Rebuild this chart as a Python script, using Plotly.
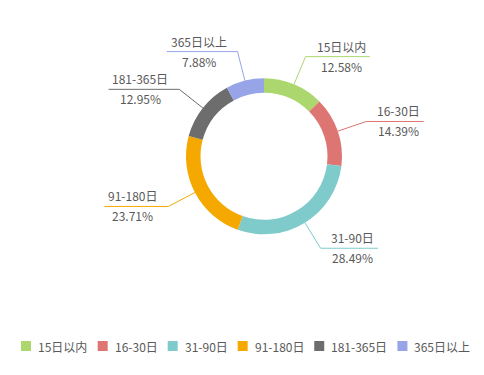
import math
import plotly.graph_objects as go

# ---- data ----
categories = ["15日以内", "16-30日", "31-90日", "91-180日", "181-365日", "365日以上"]
percents = [12.58, 14.39, 28.49, 23.71, 12.95, 7.88]
pct_labels = ["12.58%", "14.39%", "28.49%", "23.71%", "12.95%", "7.88%"]
colors = ["#ACD76E", "#DD7573", "#7FCBCB", "#F5A800", "#6D6D6D", "#97A5E8"]

# ---- layout constants (page pixels) ----
OFF = 8                      # default body margin of the html page
W, H = 484 - OFF, 375 - OFF  # figure size so that it fills the window
CX, CY = 264, 156.3
R_OUT = 78
R_IN = 63.5
R_KNEE = 108
FONT = "Noto Sans CJK SC, Microsoft YaHei, sans-serif"
TXT = "#595959"


def text_w(s, size=12):
    w = 0.0
    for ch in s:
        if ch.isdigit():
            w += 0.55 * size
        elif ch == "-":
            w += 0.34 * size
        elif ch == ".":
            w += 0.27 * size
        elif ch == "%":
            w += 0.88 * size
        elif ord(ch) > 0x2E80:
            w += 1.0 * size
        else:
            w += 0.55 * size
    return w


def px(x):
    return (x - OFF) / W


def py(y):
    return 1 - (y - OFF) / H


fig = go.Figure()
fig.add_trace(go.Pie(
    labels=categories,
    values=percents,
    marker=dict(colors=colors, line=dict(width=0)),
    hole=R_IN / R_OUT,
    sort=False,
    direction="clockwise",
    rotation=0,
    textinfo="none",
    hoverinfo="label+percent",
    domain=dict(x=[px(CX - R_OUT), px(CX + R_OUT)],
                y=[py(CY + R_OUT), py(CY - R_OUT)]),
    showlegend=False,
))

shapes = []
annotations = []
total = sum(percents)
cum = 0.0
for name, val, lab, col in zip(categories, percents, pct_labels, colors):
    mid = (cum + val / 2) / total * 2 * math.pi
    cum += val
    s, c = math.sin(mid), math.cos(mid)
    x0, y0 = CX + R_OUT * s, CY - R_OUT * c
    x1, y1 = CX + R_KNEE * s, CY - R_KNEE * c
    side = 1 if s >= 0 else -1
    bw = max(text_w(name), text_w(lab))
    x2 = x1 + side * (bw + 15)
    tx = x1 + side * (11 + bw / 2)
    shapes.append(dict(
        type="path", xref="paper", yref="paper",
        path=f"M {px(x0)},{py(y0)} L {px(x1)},{py(y1)} L {px(x2)},{py(y1)}",
        line=dict(color=col, width=1),
    ))
    annotations.append(dict(
        x=px(tx), y=py(y1), xref="paper", yref="paper", text=name,
        showarrow=False, xanchor="center", yanchor="bottom", yshift=0,
        font=dict(family=FONT, size=12, color=TXT),
    ))
    annotations.append(dict(
        x=px(tx), y=py(y1), xref="paper", yref="paper", text=lab,
        showarrow=False, xanchor="center", yanchor="top", yshift=1,
        font=dict(family=FONT, size=12, color=TXT),
    ))

# ---- legend (drawn from categories) ----
LY = 346
lx = 21
for name, col in zip(categories, colors):
    shapes.append(dict(
        type="rect", xref="paper", yref="paper",
        x0=px(lx), x1=px(lx + 10), y0=py(LY + 5), y1=py(LY - 5),
        fillcolor=col, line=dict(width=0),
    ))
    annotations.append(dict(
        x=px(lx + 15), y=py(LY), xref="paper", yref="paper", text=name,
        showarrow=False, xanchor="left", yanchor="middle",
        font=dict(family=FONT, size=12, color=TXT),
    ))
    lx += 15 + text_w(name) + 12.5

fig.update_layout(
    width=W, height=H,
    margin=dict(l=0, r=0, t=0, b=0),
    paper_bgcolor="white",
    plot_bgcolor="white",
    shapes=shapes,
    annotations=annotations,
    showlegend=False,
)

fig.write_html("out.html")
